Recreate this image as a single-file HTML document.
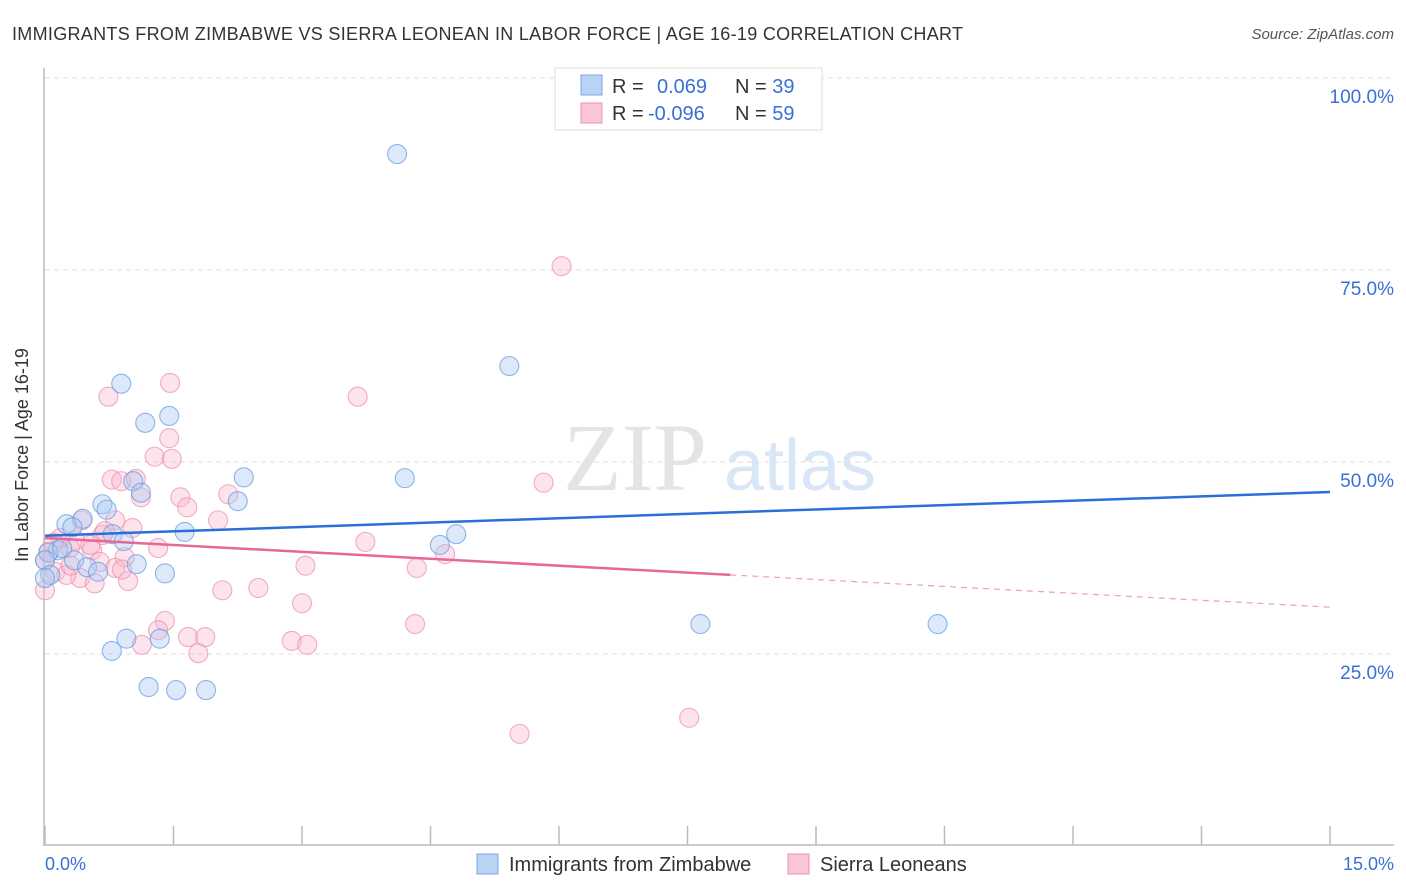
<!DOCTYPE html>
<html><head><meta charset="utf-8"><style>
body{margin:0;background:#fff;font-family:"Liberation Sans",sans-serif;}
svg{display:block}
</style></head><body>
<svg id="chart" width="1406" height="892" xmlns="http://www.w3.org/2000/svg">
<text x="12" y="40" font-size="18" fill="#333" letter-spacing="0.3">IMMIGRANTS FROM ZIMBABWE VS SIERRA LEONEAN IN LABOR FORCE | AGE 16-19 CORRELATION CHART</text>
<text x="1394" y="39" font-size="15" fill="#555" font-style="italic" text-anchor="end">Source: ZipAtlas.com</text>
<g id="grid"></g>
<text x="635" y="490" font-size="96" fill="#e4e4e4" font-family="Liberation Serif,serif" text-anchor="middle">ZIP</text>
<text x="800" y="490" font-size="72" fill="#d8e6f6" text-anchor="middle">atlas</text>
<g id="axes"></g>
<g id="pts"></g>
<g id="trends"></g>
<text x="28" y="455" font-size="18" fill="#333" text-anchor="middle" transform="rotate(-90 28 455)">In Labor Force | Age 16-19</text>
<text x="45" y="870" font-size="18" fill="#3a6fd8">0.0%</text>
<text x="1394" y="870" font-size="18" fill="#3a6fd8" text-anchor="end">15.0%</text>
<g>
<rect x="555" y="68" width="267" height="62" fill="#fff" stroke="#ddd"/>
<rect x="581" y="75" width="21" height="20" fill="#b9d3f5" stroke="#7aa7e6"/>
<rect x="581" y="103" width="21" height="20" fill="#fac6d6" stroke="#ee93b0"/>
<text x="612" y="93" font-size="20" fill="#333">R = <tspan x="657" fill="#3a6fd8">0.069</tspan><tspan x="735" fill="#333">N = </tspan><tspan fill="#3a6fd8">39</tspan></text>
<text x="612" y="120" font-size="20" fill="#333">R = <tspan x="648" fill="#3a6fd8">-0.096</tspan><tspan x="735" fill="#333">N = </tspan><tspan fill="#3a6fd8">59</tspan></text>
</g>
<g>
<rect x="477" y="854" width="21" height="20" fill="#b9d3f5" stroke="#7aa7e6"/>
<text x="509" y="871" font-size="20" fill="#333">Immigrants from Zimbabwe</text>
<rect x="788" y="854" width="21" height="20" fill="#fac6d6" stroke="#ee93b0"/>
<text x="820" y="871" font-size="20" fill="#333">Sierra Leoneans</text>
</g>
</svg>
<script>
const yTicks=[25,50,75,100];
const yTickLabels=["25.0%","50.0%","75.0%","100.0%"];
const xTicks=[0,1.5,3,4.5,6,7.5,9,10.5,12,13.5,15];
const zimX=[4.11,5.42,0.89,1.45,1.17,2.32,4.20,1.03,1.12,2.25,0.67,0.72,0.44,0.25,0.32,1.63,4.80,0.79,0.92,4.61,0.15,0.04,0.0,0.34,0.49,1.07,0.62,1.40,0.06,7.65,10.42,0.95,1.34,0.78,1.21,1.53,1.88,0.0,0.2];
const zimY=[90.1,62.5,60.2,56.0,55.1,48.0,47.9,47.5,46.0,44.9,44.5,43.8,42.6,41.9,41.5,40.9,40.6,40.6,39.7,39.2,38.5,38.2,37.2,37.2,36.3,36.7,35.7,35.5,35.3,28.9,28.9,27.0,27.0,25.4,20.7,20.3,20.3,34.9,38.8];
const sieX=[6.03,0.74,1.46,3.65,1.45,1.28,1.48,0.78,0.89,1.06,5.82,1.12,1.58,2.14,1.66,0.43,0.82,2.02,1.02,0.67,0.18,0.35,3.74,1.32,4.67,0.55,0.04,0.93,0.64,3.04,0.82,4.34,0.12,0.41,0.58,0.97,0.25,2.49,2.07,0.0,3.0,1.40,1.32,4.32,1.67,1.87,2.88,3.06,1.13,1.79,7.52,5.54,0.0,0.53,0.29,0.7,0.3,0.1,0.9];
const sieY=[75.5,58.5,60.3,58.5,53.1,50.7,50.4,47.7,47.5,47.8,47.3,45.4,45.4,45.8,44.1,42.4,42.4,42.4,41.4,40.5,40.1,39.8,39.6,38.8,38.0,38.5,38.3,37.6,37.0,36.5,36.2,36.2,35.7,34.9,34.2,34.5,35.3,33.6,33.3,33.3,31.6,29.3,28.1,28.9,27.2,27.2,26.7,26.2,26.2,25.1,16.7,14.6,37.2,39.2,38.8,41.0,36.5,39.5,36.0];
const zimTrend=[[0,40.4],[15,46.1]];
const sieTrendSolid=[[0,40.1],[8.0,35.3]];
const sieTrendDash=[[8.0,35.3],[15,31.1]];
const X=v=>45+v/15*1285, Y=v=>846-v/100*768;
const NS="http://www.w3.org/2000/svg";
function mk(t,a,p){const e=document.createElementNS(NS,t);for(const k in a)e.setAttribute(k,a[k]);p.appendChild(e);return e;}
const grid=document.getElementById('grid'),axes=document.getElementById('axes'),pts=document.getElementById('pts'),tr=document.getElementById('trends');
yTicks.forEach((t,i)=>{
 const l=mk('line',{x1:45,x2:1394,y1:Y(t),y2:Y(t),stroke:'#ddd','stroke-dasharray':'5,4'},grid);
 
 
 const tx=mk('text',{x:1394,y:Y(t)+25,'font-size':19,fill:'#3a6fd8','text-anchor':'end'},grid);
 tx.textContent=yTickLabels[i];
 
 
});
const ax=mk('line',{x1:44,x2:44,y1:68,y2:846,stroke:'#bbb','stroke-width':1.5},axes);


const bx=mk('line',{x1:44,x2:1394,y1:845,y2:845,stroke:'#bbb','stroke-width':1.5},axes);


xTicks.forEach(t=>{
 const l=mk('line',{x1:X(t),x2:X(t),y1:826,y2:845,stroke:'#bbb','stroke-width':1.5},axes);
 
 
});
function dots(xs,ys,fill,stroke,name){
 xs.forEach((x,i)=>{
  const c=mk('circle',{cx:X(x),cy:Y(ys[i]),r:9.5,fill:fill,'fill-opacity':0.4,stroke:stroke,'stroke-opacity':0.75,'stroke-width':1.1},pts);
  
  
 });
}
dots(sieX,sieY,'#f9b8cc','#ec92b0','point-sierra-leonean');
dots(zimX,zimY,'#a9c9f2','#6a9ee2','point-zimbabwe');
function line(d,col,dash,name,w){
 const l=mk('line',{x1:X(d[0][0]),y1:Y(d[0][1]),x2:X(d[1][0]),y2:Y(d[1][1]),stroke:col,'stroke-width':w},tr);
 if(dash)l.setAttribute('stroke-dasharray',dash);
 
 
}
line(zimTrend,'#2a6fd6',null,'trend-zimbabwe',2.5);
line(sieTrendSolid,'#e6679a',null,'trend-sierra-leonean',2.5);
line(sieTrendDash,'#eaa0b8','6,5','trend-sierra-leonean-extrapolated',1.2);
</script>
</body></html>
